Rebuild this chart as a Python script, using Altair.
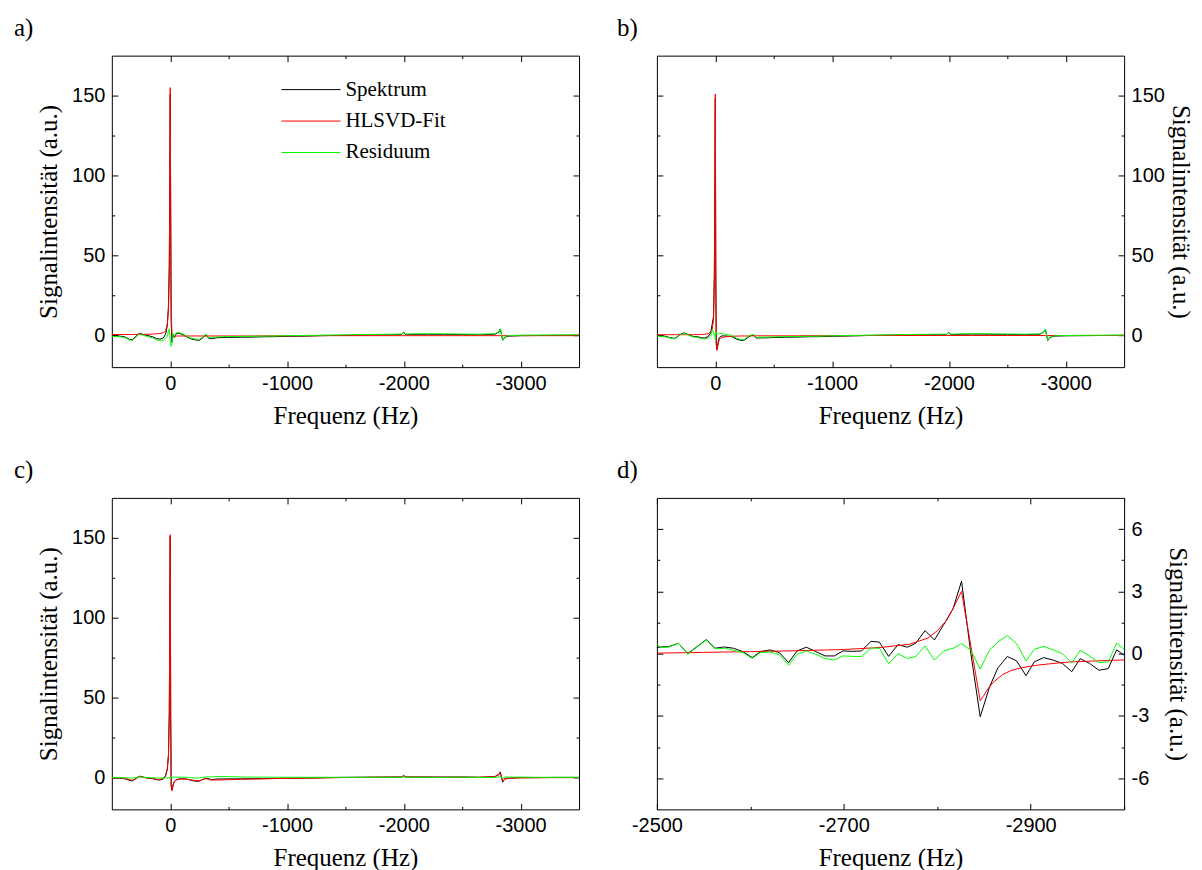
import altair as alt
import pandas as pd

# ---------------- data ----------------
SERIES = ["Spektrum", "HLSVD-Fit", "Residuum"]
COLORS = ["#000000", "#ff0000", "#00ff00"]

# frequency grid (Hz) used for panels a, b, c
freq_full = [500, 440, 390, 350, 325, 300, 265, 230, 190, 150, 120, 90, 60, 40, 25, 15, 8, 4, 0,
             -4, -8, -15, -25, -35, -50, -70, -100, -140, -180, -220, -250, -280, -305, -330, -350,
             -400, -500, -600, -700, -800, -900, -1000, -1150, -1300, -1450, -1600, -1750, -1900,
             -1980, -2000, -2015, -2060, -2200, -2350, -2500, -2650, -2780, -2815, -2826, -2846,
             -2865, -2900, -3000, -3150, -3300, -3500]

spec_a = [-0.3, -0.5, -1.0, -2.6, -2.8, -1.2, 1.2, 0.4, -0.3, -1.0, -2.0, -2.5, -1.8, 0.5, 6.0, 18.5, 44.0, 90.0, 151.0,
          74.0, 8.0, -4.5, 0.5, -1.5, 0.8, 1.2, 0.6, -1.0, -2.4, -3.0, -3.2, -1.5, 0.2, -2.0, -2.2,
          -1.6, -1.4, -1.3, -1.2, -1.0, -0.9, -0.7, -0.6, -0.3, -0.1, 0.1, 0.2, 0.3,
          0.4, 1.8, 0.3, 0.5, 0.6, 0.5, 0.4, 0.3, 0.6, 2.0, 3.8, -3.2,
          -1.2, -0.6, -0.3, -0.2, -0.1, 0.0]
fit_a = [0.4, 0.4, 0.4, 0.4, 0.4, 0.5, 0.5, 0.5, 0.6, 0.7, 0.9, 1.0, 1.5, 2.5, 7.0, 16.0, 40.0, 90.0, 155.0,
         80.0, 15.0, 0.5, -0.5, -0.7, -0.6, -0.5, -0.5, -0.5, -0.5, -0.5, -0.5, -0.5, -0.5, -0.5, -0.5,
         -0.5, -0.5, -0.5, -0.5, -0.4, -0.4, -0.4, -0.4, -0.3, -0.3, -0.3, -0.3, -0.3,
         -0.3, -0.3, -0.3, -0.3, -0.3, -0.3, -0.3, -0.3, -0.3, -0.3, -0.3, -0.3,
         -0.3, -0.3, -0.3, -0.3, -0.3, -0.3]
res_a = [-0.7, -0.9, -1.4, -3.0, -3.2, -1.7, 0.7, -0.1, -0.9, -1.7, -2.9, -3.5, -3.3, -2.0, -1.0, 2.5, 4.0, 0.0, -4.0,
         -6.0, -7.0, -5.0, 1.0, -0.8, 1.4, 1.7, 1.1, -0.5, -1.9, -2.5, -2.7, -1.0, 0.7, -1.5, -1.7,
         -1.1, -0.9, -0.8, -0.7, -0.6, -0.5, -0.3, -0.2, 0.0, 0.2, 0.4, 0.5, 0.6,
         0.7, 2.1, 0.6, 0.8, 0.9, 0.8, 0.7, 0.6, 0.9, 2.3, 4.1, -2.9,
         -0.9, -0.3, 0.0, 0.1, 0.2, 0.3]

spec_b = [-0.3, -0.5, -1.5, -2.0, -1.0, 0.5, 1.5, 0.3, -0.8, -1.0, -1.6, -1.8, -0.8, 1.5, 7.5, 12.0, 38.0, 92.0, 148.0,
          42.0, -5.0, -9.0, -4.0, -1.5, -0.6, -0.4, -0.6, -0.8, -2.4, -3.3, -3.0, -1.4, -0.3, 0.0, -1.8,
          -1.7, -1.5, -1.3, -1.2, -1.0, -0.9, -0.7, -0.5, -0.2, 0.0, 0.2, 0.3, 0.4,
          0.4, 1.8, 0.4, 0.5, 0.7, 0.6, 0.5, 0.4, 0.6, 2.2, 3.6, -3.4,
          -1.4, -0.6, -0.4, -0.3, -0.2, -0.1]
fit_b = [0.3, 0.3, 0.3, 0.3, 0.3, 0.3, 0.3, 0.3, 0.3, 0.4, 0.5, 0.6, 1.0, 2.0, 4.0, 10.0, 38.0, 92.0, 151.0,
         40.0, -6.0, -9.5, -5.0, -2.7, -1.6, -1.2, -0.9, -0.7, -0.6, -0.5, -0.5, -0.5, -0.4, -0.4, -0.4,
         -0.4, -0.4, -0.4, -0.4, -0.3, -0.3, -0.3, -0.3, -0.2, -0.2, -0.2, -0.2, -0.2,
         -0.2, -0.2, -0.2, -0.2, -0.2, -0.2, -0.2, -0.2, -0.2, -0.2, -0.2, -0.2,
         -0.2, -0.2, -0.2, -0.2, -0.2, -0.2]
res_b = [-0.6, -0.8, -1.8, -2.3, -1.3, 0.2, 1.2, 0.0, -1.1, -1.4, -2.1, -2.4, -1.8, -0.5, 3.5, 2.0, 0.0, 0.0, -3.0,
         2.0, 1.0, 0.5, 1.0, 1.2, 1.0, 0.8, 0.3, -0.1, -1.8, -2.8, -2.5, -0.9, 0.1, 0.4, -1.4,
         -1.3, -1.1, -0.9, -0.8, -0.7, -0.6, -0.4, -0.2, 0.0, 0.2, 0.4, 0.5, 0.6,
         0.6, 2.0, 0.6, 0.7, 0.9, 0.8, 0.7, 0.6, 0.8, 2.4, 3.8, -3.2,
         -1.2, -0.4, -0.2, -0.1, 0.0, 0.1]

spec_c = [-0.3, -0.4, -0.8, -1.8, -2.2, -1.0, 0.8, 0.2, -0.5, -0.8, -1.4, -1.6, -1.0, 1.0, 5.0, 14.0, 40.0, 92.0, 151.0,
          42.0, -5.0, -8.0, -4.5, -2.5, -1.5, -1.0, -0.8, -1.0, -1.8, -2.4, -2.3, -1.2, -0.5, -0.8, -1.4,
          -1.0, -0.9, -0.9, -0.8, -0.7, -0.6, -0.5, -0.4, -0.2, 0.0, 0.1, 0.2, 0.3,
          0.3, 1.2, 0.3, 0.3, 0.3, 0.2, 0.3, 0.1, 0.5, 2.1, 3.5, -3.0,
          -0.7, -0.4, -0.1, -0.1, 0.0, 0.0]
fit_c = [-0.2, -0.3, -0.6, -1.4, -1.8, -0.9, 0.4, 0.1, -0.4, -0.6, -1.1, -1.3, -0.6, 1.2, 5.5, 14.0, 40.0, 92.0, 152.0,
         42.0, -5.5, -8.3, -4.8, -2.7, -1.7, -1.2, -1.0, -1.1, -1.6, -2.0, -2.0, -1.3, -0.8, -1.2, -1.6,
         -1.6, -1.4, -1.2, -1.0, -0.9, -0.7, -0.6, -0.5, -0.3, -0.1, 0.0, 0.1, 0.2,
         0.2, 0.8, 0.2, 0.2, 0.2, 0.2, 0.1, 0.1, 0.5, 1.7, 3.0, -2.3,
         -1.0, -0.6, -0.3, -0.2, -0.1, -0.1]
res_c = [-0.1, -0.1, -0.2, -0.4, -0.4, -0.1, 0.4, 0.1, -0.1, -0.2, -0.3, -0.3, -0.4, -0.2, -0.5, 0.0, 0.0, 0.0, -1.0,
         0.0, 0.5, 0.3, 0.3, 0.2, 0.2, 0.2, 0.2, 0.1, -0.2, -0.4, -0.3, 0.1, 0.3, 0.4, 0.2,
         0.6, 0.5, 0.3, 0.2, 0.2, 0.1, 0.1, 0.1, 0.1, 0.1, 0.1, 0.1, 0.1,
         0.1, 0.4, 0.1, 0.1, 0.1, 0.0, 0.2, 0.0, 0.0, 0.4, 0.5, -0.7,
         0.3, 0.2, 0.2, 0.1, 0.1, 0.1]

# panel d: zoom on the -2830 Hz signal
freq_d = [-2494, -2504, -2513, -2523, -2533, -2543, -2553, -2562, -2572, -2582, -2592, -2602, -2611,
          -2621, -2631, -2641, -2650, -2660, -2670, -2680, -2690, -2699, -2709, -2719, -2729, -2738,
          -2748, -2758, -2768, -2777, -2787, -2797, -2807, -2817, -2826, -2836, -2846, -2856, -2865,
          -2875, -2885, -2895, -2904, -2914, -2924, -2934, -2944, -2953, -2963, -2973, -2983, -2992, -3002]
spec_d = [0.25, 0.32, 0.34, 0.50, 0.00, 0.34, 0.68, 0.26, 0.32, 0.26, 0.10, -0.19, 0.10,
          0.18, 0.05, -0.43, 0.13, 0.31, 0.10, -0.11, -0.11, 0.13, 0.11, 0.13, 0.59, 0.56,
          -0.13, 0.43, 0.31, 0.50, 1.11, 0.66, 1.40, 2.17, 3.49, 0.00, -3.04, -1.60, -0.68,
          -0.14, -0.35, -1.06, -0.39, -0.19, -0.31, -0.47, -0.87, -0.24, -0.47, -0.80, -0.72, 0.18, -0.14]
res_d = [0.75, 0.29, 0.32, 0.50, -0.03, 0.32, 0.66, 0.24, 0.26, 0.16, 0.05, -0.23, 0.05,
         0.08, -0.06, -0.56, -0.03, 0.13, -0.03, -0.24, -0.31, -0.11, -0.13, -0.14, 0.27, 0.26,
         -0.48, 0.00, -0.23, -0.14, 0.37, -0.31, 0.13, 0.26, 0.48, 0.16, -0.74, 0.18, 0.56,
         0.87, 0.48, -0.35, 0.21, 0.35, 0.18, 0.00, -0.45, 0.16, -0.11, -0.43, -0.40, 0.51, 0.13]
freq_fit_d = [-2494, -2550, -2600, -2650, -2700, -2740, -2770, -2790, -2800, -2810, -2815, -2820, -2826,
              -2846, -2850, -2855, -2860, -2870, -2880, -2890, -2906, -2925, -2942, -2970, -3002]
fit_d = [0.02, 0.06, 0.10, 0.14, 0.20, 0.30, 0.45, 0.75, 1.10, 1.60, 2.00, 2.45, 3.00,
         -2.27, -2.00, -1.65, -1.38, -1.00, -0.80, -0.68, -0.56, -0.47, -0.40, -0.35, -0.30]

# axis ticks / labels
xmaj_full = [0, -1000, -2000, -3000]
xmin_full = [-500, -1500, -2500]
ymaj_full = [0, 50, 100, 150]
ymin_full = [25, 75, 125]
xmaj_d = [-2500, -2700, -2900]
xmin_d = [-2600, -2800, -3000]
ymaj_d = [-6, -3, 0, 3, 6]
ymin_d = [-4.5, -1.5, 1.5, 4.5]

XTITLE = "Frequenz (Hz)"
YTITLE = "Signalintensität (a.u.)"

W, H = 468, 312
MAJ, MIN = 6, 3
SANS = "Liberation Sans"
SERIF = "Liberation Serif"


def frame(name, freq, vals):
    return pd.DataFrame({"f": freq, "v": vals, "s": name, "i": list(range(len(freq)))})


def ax(orient, values, size, labels=False, title=None, tpad=10):
    d = dict(orient=orient, values=values, tickSize=size, offset=-size, domain=False,
             grid=False, labels=labels, title=title, ticks=True, tickColor="black", tickWidth=1)
    if labels:
        d.update(labelExpr="datum.value + ''", labelFlush=False, labelOverlap=False,
                 labelFont=SANS, labelFontSize=20, labelColor="black",
                 titleFont=SERIF, titleFontSize=25, titleFontWeight="normal", titleColor="black",
                 labelPadding=7 if orient in ("left", "right") else 6,
                 titlePadding=tpad)
    return alt.Axis(**d)


def panel(label, dx, spec, fit, res, xdom, ydom, xmaj, xmin, ymaj, ymin, yside, legend, ytpad):
    xs = alt.Scale(domain=xdom, reverse=True, nice=False, zero=False)
    ys = alt.Scale(domain=ydom, nice=False, zero=False)
    other = "right" if yside == "left" else "left"
    col = alt.Color("s:N", scale=alt.Scale(domain=SERIES, range=COLORS), sort=SERIES, legend=legend)

    def lay(df, xa, ya, colored=True):
        m = alt.Chart(df).mark_line(clip=True, strokeWidth=1,
                                    strokeOpacity=1 if colored else 0)
        enc = dict(x=alt.X("f:Q", scale=xs, axis=xa), y=alt.Y("v:Q", scale=ys, axis=ya),
                   order="i:Q")
        if colored:
            enc["color"] = col
        return m.encode(**enc)

    l1 = lay(spec, ax("bottom", xmaj, MAJ, True, XTITLE),
             ax(yside, ymaj, MAJ, True, YTITLE, tpad=ytpad))
    l2 = lay(fit, ax("bottom", xmin, MIN), ax(yside, ymin, MIN))
    l3 = lay(res, ax("top", xmaj, MAJ), ax(other, ymaj, MAJ))
    l4 = lay(spec, ax("top", xmin, MIN), ax(other, ymin, MIN), colored=False)
    return alt.layer(l1, l2, l3, l4).resolve_axis(x="independent", y="independent").properties(
        width=W, height=H,
        title=alt.TitleParams(label, anchor="start", frame="group", dx=dx, offset=14, font=SERIF,
                              fontSize=25, fontWeight="normal", color="black"))


legend_a = alt.Legend(orient="none", legendX=169, legendY=24, title=None, symbolType="stroke",
                      symbolSize=3500, symbolStrokeWidth=1, clipHeight=20,
                      labelFont=SERIF, labelFontSize=21, labelColor="black", rowPadding=10.5,
                      labelOffset=4, padding=0)

full_x = [-3500, 500]
full_y = [-20, 175]

pa = panel("a)", -98, frame(SERIES[0], freq_full, spec_a), frame(SERIES[1], freq_full, fit_a),
           frame(SERIES[2], freq_full, res_a), full_x, full_y, xmaj_full, xmin_full,
           ymaj_full, ymin_full, "left", legend_a, 10)
pb = panel("b)", -40, frame(SERIES[0], freq_full, spec_b), frame(SERIES[1], freq_full, fit_b),
           frame(SERIES[2], freq_full, res_b), full_x, full_y, xmaj_full, xmin_full,
           ymaj_full, ymin_full, "right", None, 3)
pc = panel("c)", -98, frame(SERIES[0], freq_full, spec_c), frame(SERIES[1], freq_full, fit_c),
           frame(SERIES[2], freq_full, res_c), full_x, full_y, xmaj_full, xmin_full,
           ymaj_full, ymin_full, "left", None, 10)
pd_ = panel("d)", -40, frame(SERIES[0], freq_d, spec_d), frame(SERIES[1], freq_fit_d, fit_d),
            frame(SERIES[2], freq_d, res_d), [-3000, -2500], [-7.5, 7.5], xmaj_d, xmin_d,
            ymaj_d, ymin_d, "right", None, 16)

chart = alt.concat(pa, pb, pc, pd_, columns=2, spacing={"row": 131, "column": 78}).properties(
    bounds="flush",
    padding={"left": 5, "top": 7, "right": 1, "bottom": 5},
    background="white",
).resolve_scale(color="independent").configure_view(
    stroke="black", strokeWidth=1
)

chart.save("out.html", embed_options={"renderer": "svg", "actions": False})
